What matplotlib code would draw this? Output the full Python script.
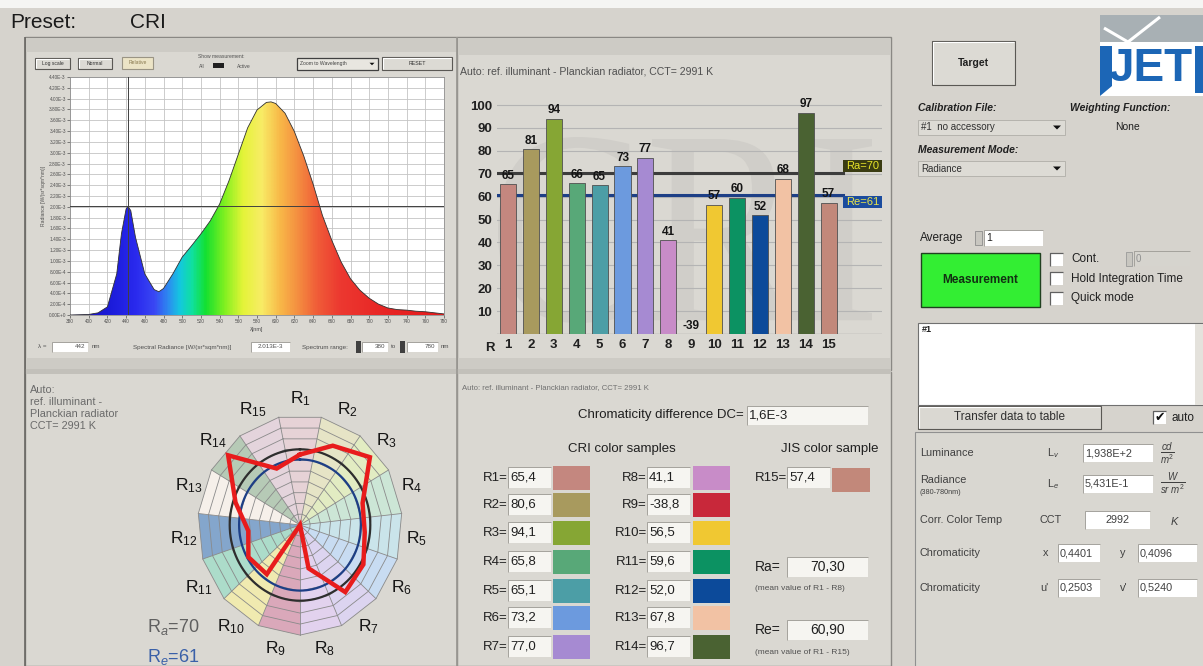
import numpy as np
import matplotlib
matplotlib.use('Agg')
import matplotlib.pyplot as plt
from matplotlib.patches import Rectangle, Polygon, PathPatch
from matplotlib.colors import LinearSegmentedColormap
from matplotlib.textpath import TextPath
from matplotlib.font_manager import FontProperties
from matplotlib.transforms import Affine2D
from matplotlib.ticker import FuncFormatter

plt.rcParams['font.family'] = ['Liberation Sans', 'DejaVu Sans']
plt.rcParams['mathtext.fontset'] = 'custom'
plt.rcParams['mathtext.rm'] = 'Liberation Sans'
plt.rcParams['mathtext.it'] = 'Liberation Sans:italic'
plt.rcParams['mathtext.bf'] = 'Liberation Sans:bold'

W, H = 1203, 666

### DATA ###
# measured spectrum, radiance in 1E-3 W/(sr*sqm*nm)
wavelength = [380, 390, 400, 410, 420, 430, 435, 440, 442, 445, 450, 460, 470, 475,
              480, 490, 500, 510, 520, 530, 540, 550, 560, 570, 580, 590, 595, 600,
              610, 620, 630, 640, 650, 660, 670, 680, 690, 700, 710, 720, 730, 740,
              750, 760, 770, 780]
radiance = [0.0, 0.005, 0.01, 0.04, 0.15, 0.76, 1.50, 1.96, 2.01, 1.93, 1.44, 0.76,
            0.47, 0.43, 0.49, 0.76, 1.07, 1.28, 1.50, 1.74, 2.05, 2.48, 2.97, 3.46,
            3.79, 3.93, 3.94, 3.91, 3.73, 3.39, 2.94, 2.42, 1.84, 1.38, 0.98, 0.67,
            0.46, 0.31, 0.20, 0.13, 0.10, 0.09, 0.07, 0.06, 0.04, 0.02]
cursor_nm = 442
cursor_value = 2.013
range_nm = (380, 780)

cri_names = ['R1', 'R2', 'R3', 'R4', 'R5', 'R6', 'R7', 'R8', 'R9', 'R10', 'R11',
             'R12', 'R13', 'R14', 'R15']
cri_values = [65.4, 80.6, 94.1, 65.8, 65.1, 73.2, 77.0, 41.1, -38.8, 56.5, 59.6,
              52.0, 67.8, 96.7, 57.4]
ra_value = 70.30
re_value = 60.90
dc_value = '1,6E-3'
ref_cct = 2991

luminance = '1,938E+2'
radiance_total = '5,431E-1'
cct = '2992'
chroma_xy = ('0,4401', '0,4096')
chroma_uv = ('0,2503', '0,5240')

sample_colors = ['#c4877f', '#a89a5e', '#86a634', '#58a878', '#4c9ea6', '#6c9ade',
                 '#a68ad2', '#c88cc8', '#c8283a', '#f0c832', '#0c9262', '#0c4a9a',
                 '#f2c2a4', '#4a6232', '#c2887a']
polar_tints = ['#e6d2d6', '#e6e4c6', '#e2ecc2', '#cce6d6', '#cae4ea', '#c8dcf2',
               '#dcd4f0', '#e2d2ee', '#daa8ba', '#f0eab0', '#acdcca', '#84a6cc',
               '#f6f0ea', '#b6cab6', '#e4d4dc']

BG = '#d6d3cd'
PANEL = '#dad8d2'

fig = plt.figure(figsize=(W / 100, H / 100), dpi=100)
fig.patch.set_facecolor(BG)
bg = fig.add_axes([0, 0, 1, 1])
bg.set_xlim(0, W)
bg.set_ylim(H, 0)
bg.axis('off')


def frac(x0, y0, x1, y1):
    return [x0 / W, 1 - y1 / H, (x1 - x0) / W, (y1 - y0) / H]


def rect(x0, y0, x1, y1, fc='none', ec='none', lw=0.8, z=1):
    bg.add_patch(Rectangle((x0, y0), x1 - x0, y1 - y0, facecolor=fc,
                           edgecolor=ec, linewidth=lw, zorder=z))


def txt(x, y, s, size=8, ha='left', va='center', color='#202020', **kw):
    bg.text(x, y, s, fontsize=size, ha=ha, va=va, color=color, zorder=5, **kw)


def line(xs, ys, color='#8a8884', lw=0.8, z=2):
    bg.plot(xs, ys, color=color, lw=lw, zorder=z, solid_capstyle='butt')


def button(x0, y0, x1, y1, label, size=5, fc='#dcdad4', weight='normal', color='#303030'):
    rect(x0, y0, x1, y1, fc=fc, ec='#5a5854', lw=0.8, z=2)
    line([x0 + 1, x0 + 1, x1 - 1.5], [y1 - 1.5, y0 + 1, y0 + 1], color='#ffffff', lw=0.8, z=3)
    txt((x0 + x1) / 2, (y0 + y1) / 2, label, size, ha='center', weight=weight, color=color)


def field(x0, y0, x1, y1, s='', size=8, ha='left', fc='#f6f5f1', color='#202020'):
    rect(x0, y0, x1, y1, fc=fc, z=2)
    line([x0, x0, x1], [y1, y0, y0], color='#a4a29c', lw=0.7, z=3)
    if ha == 'left':
        txt(x0 + 2, (y0 + y1) / 2, s, size, color=color)
    elif ha == 'right':
        txt(x1 - 3, (y0 + y1) / 2, s, size, ha='right', color=color)
    else:
        txt((x0 + x1) / 2, (y0 + y1) / 2, s, size, ha='center', color=color)


def arrow_down(x, y, s=3):
    bg.add_patch(Polygon([[x - s, y - s / 2], [x + s, y - s / 2], [x, y + s / 2]],
                         closed=True, fc='#101010', ec='none', zorder=4))


def checkbox(x, y, checked=False):
    rect(x, y, x + 13, y + 13, fc='white', z=3)
    line([x, x, x + 13], [y + 13, y, y], color='#606060', lw=0.9, z=4)
    if checked:
        txt(x + 6.5, y + 6.5, '\u2714', 9, ha='center', color='#101010', family=['DejaVu Sans'])


# window background and title strip
rect(0, 0, W, 8, fc='#f5f5f3', z=0)
txt(10, 22, 'Preset:', 15, color='#1a1a1a')
txt(130, 22, 'CRI', 15, color='#1a1a1a')

# panel frames
rect(25, 37, 457, 370, fc=PANEL, ec='#8a8884', lw=1.0)
rect(457, 37, 891, 370, fc=PANEL, ec='#8a8884', lw=1.0)
rect(25, 372, 457, 666, fc=PANEL, ec='#8a8884', lw=1.0)
rect(457, 372, 891, 666, fc=PANEL, ec='#8a8884', lw=1.0)
rect(26, 38, 456, 52, fc='#cdcbc5')
rect(458, 38, 890, 55, fc='#cdcbc5')
rect(26, 358, 456, 369, fc='#cdcbc5')
rect(458, 358, 890, 369, fc='#cdcbc5')
rect(25, 369, 891, 374, fc='#c2c0ba')
line([25, 25], [37, 666], color='#6a6864', lw=1.2)
line([457, 457], [37, 666], color='#9a9893', lw=1.2)

# spectrum panel controls
button(35, 58, 70, 69, 'Log scale', 3.6)
button(78, 58, 112, 69, 'Normal', 3.6)
rect(122, 57, 153, 69, fc='#ece4c6', ec='#9a9484', lw=0.8, z=2)
txt(137.5, 63, 'Relative', 3.6, ha='center', color='#8a7a50')
txt(198, 57, 'Show measurement:', 3.6, color='#505050')
txt(199, 66, 'All', 3.6, color='#505050')
rect(213, 63, 224, 68, fc='#202020', z=3)
txt(237, 66, 'Active', 3.6, color='#505050')
rect(297, 58, 378, 70, fc='#e8e6e0', ec='#404040', lw=0.9, z=2)
txt(300, 64, 'Zoom to Wavelength', 3.6, color='#404040')
arrow_down(372, 64, 2.5)
button(382, 57, 452, 70, 'RESET', 3.8)

txt(38, 347, '\u03bb =', 4.5, color='#505050')
field(52, 342, 88, 352, '442', 4.5, ha='right', fc='#ffffff', color='#505050')
txt(92, 347, 'nm', 4.5, color='#505050')
txt(133, 347, 'Spectral Radiance [W/(sr*sqm*nm)]', 4.5, color='#505050')
field(251, 342, 290, 352, f'{cursor_value:.3f}E-3', 4.5, ha='center', fc='#ffffff', color='#505050')
txt(302, 347, 'Spectrum range:', 4.5, color='#505050')
rect(356, 341, 361, 353, fc='#404040', z=3)
field(362, 342, 388, 352, str(range_nm[0]), 4.5, ha='right', fc='#ffffff', color='#505050')
txt(391, 347, 'to', 4.5, color='#505050')
rect(400, 341, 405, 353, fc='#404040', z=3)
field(407, 342, 438, 352, str(range_nm[1]), 4.5, ha='right', fc='#ffffff', color='#505050')
txt(441, 347, 'nm', 4.5, color='#505050')

# spectrum
sp = fig.add_axes(frac(70, 77, 444, 315))
sp.set_facecolor('white')
sp.set_xlim(*range_nm)
sp.set_ylim(0, 4.4)
spec_stops = [(380, '#2010b0'), (420, '#1a1ad8'), (450, '#2a2aee'), (470, '#3a48f4'),
              (485, '#2c8cf0'), (497, '#14c8e0'), (510, '#10e0a0'), (525, '#14e030'),
              (545, '#80f020'), (565, '#e4f438'), (585, '#f8ec66'), (605, '#f8b848'),
              (625, '#f48c40'), (645, '#f05c38'), (670, '#ec3830'), (720, '#e82424'),
              (780, '#e41c1c')]
spec_cmap = LinearSegmentedColormap.from_list(
    'spec', [((nm - 380) / 400, c) for nm, c in spec_stops])
ramp = np.linspace(380, 780, 401)[None, :]
im = sp.imshow(ramp, extent=[380, 780, 0, 4.4], aspect='auto', cmap=spec_cmap,
               vmin=380, vmax=780, zorder=2, interpolation='bilinear')
outline = Polygon(np.column_stack([[wavelength[0]] + wavelength + [wavelength[-1]],
                                   [0] + radiance + [0]]),
                  closed=True, fc='none', ec='none', transform=sp.transData)
sp.add_patch(outline)
im.set_clip_path(outline)
sp.plot(wavelength, radiance, color='#303030', lw=0.6, zorder=3)
sp.axvline(cursor_nm, color='#404040', lw=0.7, zorder=4)
sp.axhline(cursor_value, color='#404040', lw=0.7, zorder=4)
sp.set_xticks(range(380, 781, 20))
sp.set_yticks(np.arange(0, 4.41, 0.2))
sp.grid(color='#c4c4c4', lw=0.6)
sp.set_axisbelow(True)


def sci(v, pos=None):
    if abs(v) < 1e-9:
        return '0.00E+0'
    m, e = f'{v * 1e-3:.2E}'.split('E')
    return f'{m}E{int(e)}'


sp.yaxis.set_major_formatter(FuncFormatter(sci))
sp.tick_params(labelsize=3.4, colors='#505050', length=2, width=0.5, pad=1)
sp.set_xlabel('\u03bb[nm]', fontsize=4, color='#505050', labelpad=2)
sp.set_ylabel('Radiance [W/(sr*sqm*nm)]', fontsize=3.6, color='#505050', labelpad=2)
for s in sp.spines.values():
    s.set_color('#909090')
    s.set_linewidth(0.6)

# bar chart panel
txt(460, 72, f'Auto: ref. illuminant - Planckian radiator, CCT= {ref_cct} K', 7.6,
    color='#505050')

# faint background emblem behind the bars
wm = TextPath((0, 0), 'CRI', size=1, prop=FontProperties(family='Liberation Serif'))
ext = wm.get_extents()
tr = (Affine2D().translate(-ext.x0, -ext.y0)
      .scale(374 / ext.width, -186 / ext.height).translate(498, 323))
bg.add_patch(PathPatch(tr.transform_path(wm), fc='#d0cec9', ec='none', zorder=1.5))

bc = fig.add_axes(frac(497, 95, 882, 334))
bc.patch.set_alpha(0)
bc.set_xlim(0.52, 17.33)
bc.set_ylim(0, 104.4)
idx = np.arange(1, len(cri_values) + 1)
bc.set_yticks(range(10, 101, 10))
bc.yaxis.grid(True, color='#b4b4b4', lw=0.8)
bc.set_axisbelow(True)
bc.axhline(0, color='#a8a8a8', lw=1.0, zorder=0.8)
box_x = 15.63
bc.plot([0.52, box_x], [ra_value, ra_value], color='#3c3c3c', lw=2.2, zorder=1.2)
bc.plot([0.52, box_x], [re_value, re_value], color='#1d3f86', lw=2.2, zorder=1.2)
bc.add_patch(Rectangle((box_x, ra_value + 0.3), 17.33 - box_x, 5.4, fc='#3a3c12',
                       ec='none', zorder=3, clip_on=False))
bc.text((box_x + 17.33) / 2, ra_value + 3.0, f'Ra={ra_value:.0f}', fontsize=8,
        color='#e8e428', ha='center', va='center', zorder=4)
bc.add_patch(Rectangle((box_x, re_value - 5.7), 17.33 - box_x, 5.2, fc='#1b4c9e',
                       ec='none', zorder=3, clip_on=False))
bc.text((box_x + 17.33) / 2, re_value - 3.1, f'Re={re_value:.0f}', fontsize=8,
        color='#e8e44a', ha='center', va='center', zorder=4)
bc.bar(idx, cri_values, width=0.7, color=sample_colors, edgecolor='#505050',
       linewidth=0.6, zorder=2)
for i, v in zip(idx, cri_values):
    bc.text(i, max(v, 0) + 1.0, f'{int(np.floor(v + 0.5))}', ha='center', va='bottom',
            fontsize=8.5, weight='bold', color='#151515', zorder=5)
bc.set_xticks(idx)
bc.set_xticklabels([n[1:] for n in cri_names])
bc.text(0.21, -3.5, 'R', ha='center', va='top', fontsize=9.5, weight='bold',
        color='#202020', clip_on=False)
bc.tick_params(length=0, labelsize=9.5, colors='#202020', pad=3.5)
for lab in bc.get_yticklabels() + bc.get_xticklabels():
    lab.set_fontweight('bold')
for s in bc.spines.values():
    s.set_visible(False)

# polar diagram panel
txt(30, 385, 'Auto:\nref. illuminant -\nPlanckian radiator\nCCT= 2991 K', 7.8,
    va='top', color='#6a6a6a', linespacing=1.25)
txt(147, 627, r'R$_a$=' + f'{ra_value:.0f}', 13, color='#606060')
txt(147, 657, r'R$_e$=' + f'{re_value:.0f}', 13, color='#3a60a8')

pc = fig.add_axes(frac(170, 385, 430, 665))
pc.set_xlim(-130, 130)
pc.set_ylim(-130, 130)
pc.axis('off')
n = len(cri_values)
step = 360 / n
half = np.radians(step / 2)


def pt(r, deg):
    a = np.radians(deg)
    return r * np.sin(a), r * np.cos(a)


rv = 100 / np.cos(half)
for k in range(n):
    a0, a1 = k * step - step / 2, k * step + step / 2
    pc.add_patch(Polygon([(0, 0), pt(rv, a0), pt(rv, a1)], closed=True,
                         fc=polar_tints[k], ec='none', zorder=1))
vert = np.arange(n + 1) * step - step / 2
for r in range(10, 101, 10):
    xs, ys = pt(r / np.cos(half), vert)
    pc.plot(xs, ys, color='#8a8a8a', lw=0.6, zorder=2)
for a in vert[:-1]:
    xs, ys = pt(np.array([0, rv]), a)
    pc.plot(xs, ys, color='#8a8a8a', lw=0.6, zorder=2)
circ = np.linspace(0, 360, 241)
pc.plot(*pt(ra_value, circ), color='#2e2e2e', lw=1.6, zorder=3)
pc.plot(*pt(re_value, circ), color='#1d3f86', lw=1.6, zorder=3)
red_r = np.clip(np.array(cri_values + cri_values[:1]), 0, None)
red_a = np.arange(n + 1) * step
pc.plot(*pt(red_r, red_a), color='#e81c1c', lw=3.2, zorder=4, solid_joinstyle='miter')
for k, name in enumerate(cri_names):
    x, y = pt(117, k * step)
    pc.text(x, y, f'R$_{{{name[1:]}}}$', fontsize=12.5, ha='center', va='center',
            color='#151515', clip_on=False)

# color sample table panel
txt(462, 388, f'Auto: ref. illuminant - Planckian radiator, CCT= {ref_cct} K', 5.6,
    color='#707070')
txt(744, 415, 'Chromaticity difference DC=', 9.5, ha='right', color='#202020')
field(747, 406, 868, 425, dc_value, 9.5)
txt(622, 449, 'CRI color samples', 9.5, ha='center', color='#202020')
txt(830, 449, 'JIS color sample', 9.5, ha='center', color='#202020')
rows = [478, 505, 533, 562, 591, 618, 647]
cols = [(508, 551, 553, 590), (647, 690, 693, 730)]
for k in range(14):
    lx, bx, sx0, sx1 = cols[k // 7]
    y = rows[k % 7]
    txt(lx, y, cri_names[k] + '=', 9.5, ha='right', color='#202020')
    field(lx, y - 11, bx, y + 10, f'{cri_values[k]:.1f}'.replace('.', ','), 9.5)
    rect(sx0, y - 12, sx1, y + 12, fc=sample_colors[k], z=2)
txt(787, 478, cri_names[14] + '=', 9.5, ha='right', color='#202020')
field(787, 467, 830, 488, f'{cri_values[14]:.1f}'.replace('.', ','), 9.5)
rect(832, 468, 870, 492, fc=sample_colors[14], z=2)

txt(755, 567, 'Ra=', 10, color='#202020')
field(787, 557, 868, 577, f'{ra_value:.2f}'.replace('.', ','), 10, ha='center')
txt(755, 588, '(mean value of R1 - R8)', 6, color='#505050')
txt(755, 630, 'Re=', 10, color='#202020')
field(787, 620, 868, 640, f'{re_value:.2f}'.replace('.', ','), 10, ha='center')
txt(755, 652, '(mean value of R1 - R15)', 6, color='#505050')

# control panel on the right
button(932, 41, 1015, 85, 'Target', 7.5, weight='bold', color='#202020')
rect(1100, 15, W, 42, fc='#a8b0b4', z=2)
line([1104, 1128, 1160], [28, 42, 17], color='#ffffff', lw=2.2, z=3)
rect(1100, 42, W, 96, fc='#ffffff', z=2)
bg.add_patch(Polygon([[1100, 96], [1100, 46], [1112, 46], [1112, 86]], closed=True,
                     fc='#1c66b6', ec='none', zorder=3))
bg.text(1108, 69, 'JET', fontsize=33, weight='bold', color='#1c66b6', va='center',
        ha='left', zorder=4, family=['Liberation Sans'])
rect(1195, 46, W, 93, fc='#1c66b6', z=4)

txt(918, 108, 'Calibration File:', 7.5, weight='bold', style='italic', color='#202020')
txt(1070, 108, 'Weighting Function:', 7.5, weight='bold', style='italic', color='#202020')
txt(1128, 127, 'None', 7.5, ha='center', color='#202020')
rect(918, 120, 1065, 135, fc='#dddbd5', ec='#b0aea8', lw=0.6, z=2)
txt(921, 127.5, '#1  no accessory', 7, color='#303030')
arrow_down(1057, 127.5, 4)
txt(918, 150, 'Measurement Mode:', 7.5, weight='bold', style='italic', color='#202020')
rect(918, 161, 1065, 176, fc='#dddbd5', ec='#b0aea8', lw=0.6, z=2)
txt(921, 168.5, 'Radiance', 7, color='#303030')
arrow_down(1057, 168.5, 4)

txt(920, 238, 'Average', 8.5, color='#202020')
rect(975, 231, 982, 245, fc='#c8c6c0', ec='#808080', lw=0.5, z=3)
field(984, 230, 1043, 246, '1', 7.5, fc='#ffffff')
rect(921, 253, 1040, 307, fc='#33ee33', ec='#204020', lw=1.0, z=2)
txt(980.5, 280, 'Measurement', 8.5, ha='center', weight='bold', color='#123012')
checkbox(1050, 253)
txt(1071, 259, 'Cont.', 8.5, color='#202020')
rect(1126, 252, 1132, 266, fc='#c8c6c0', ec='#909090', lw=0.5, z=3)
field(1134, 251, 1190, 266, '0', 7, fc='#d6d4ce', color='#909090')
checkbox(1050, 272)
txt(1071, 279, 'Hold Integration Time', 8.5, color='#202020')
checkbox(1050, 292)
txt(1071, 298, 'Quick mode', 8.5, color='#202020')

rect(918, 323, 1203, 405, fc='#ffffff', ec='#707070', lw=0.8, z=2)
txt(922, 330, '#1', 6.5, color='#202020', weight='bold')
rect(1195, 324, 1203, 405, fc='#e4e2dc', z=3)
button(918, 406, 1101, 429, 'Transfer data to table', 8.5, fc='#dad8d2')
checkbox(1153, 411, checked=True)
txt(1172, 418, 'auto', 8.5, color='#202020')

rect(915, 432, 1210, 668, fc='#d9d7d1', ec='#909090', lw=0.8)
txt(920, 453, 'Luminance', 7.8, color='#404040')
txt(1047, 453, r'L$_v$', 7.8, color='#404040')
field(1083, 444, 1153, 462, luminance, 7.8, fc='#ffffff', color='#404040')
txt(1160, 453, r'$\frac{cd}{m^2}$', 10, color='#404040')
txt(920, 480, 'Radiance', 7.8, color='#404040')
txt(920, 493, '(380-780nm)', 5.2, color='#404040')
txt(1047, 484, r'L$_e$', 7.8, color='#404040')
field(1083, 475, 1153, 493, radiance_total, 7.8, fc='#ffffff', color='#404040')
txt(1160, 484, r'$\frac{W}{sr\ m^2}$', 10, color='#404040')
txt(920, 520, 'Corr. Color Temp', 7.8, color='#404040')
txt(1040, 520, 'CCT', 7.8, color='#404040')
field(1085, 511, 1150, 529, cct, 7.8, ha='center', fc='#ffffff', color='#404040')
txt(1170, 521, r'$K$', 8, color='#404040')
txt(920, 553, 'Chromaticity', 7.8, color='#404040')
txt(1043, 553, 'x', 7.8, color='#404040')
field(1058, 544, 1100, 562, chroma_xy[0], 7.8, fc='#ffffff', color='#404040')
txt(1120, 553, 'y', 7.8, color='#404040')
field(1138, 544, 1197, 562, chroma_xy[1], 7.8, fc='#ffffff', color='#404040')
txt(920, 588, 'Chromaticity', 7.8, color='#404040')
txt(1040, 588, "u'", 7.8, color='#404040')
field(1058, 579, 1100, 597, chroma_uv[0], 7.8, fc='#ffffff', color='#404040')
txt(1120, 588, "v'", 7.8, color='#404040')
field(1138, 579, 1197, 597, chroma_uv[1], 7.8, fc='#ffffff', color='#404040')

fig.savefig('out.png', dpi=100, facecolor=fig.get_facecolor())
